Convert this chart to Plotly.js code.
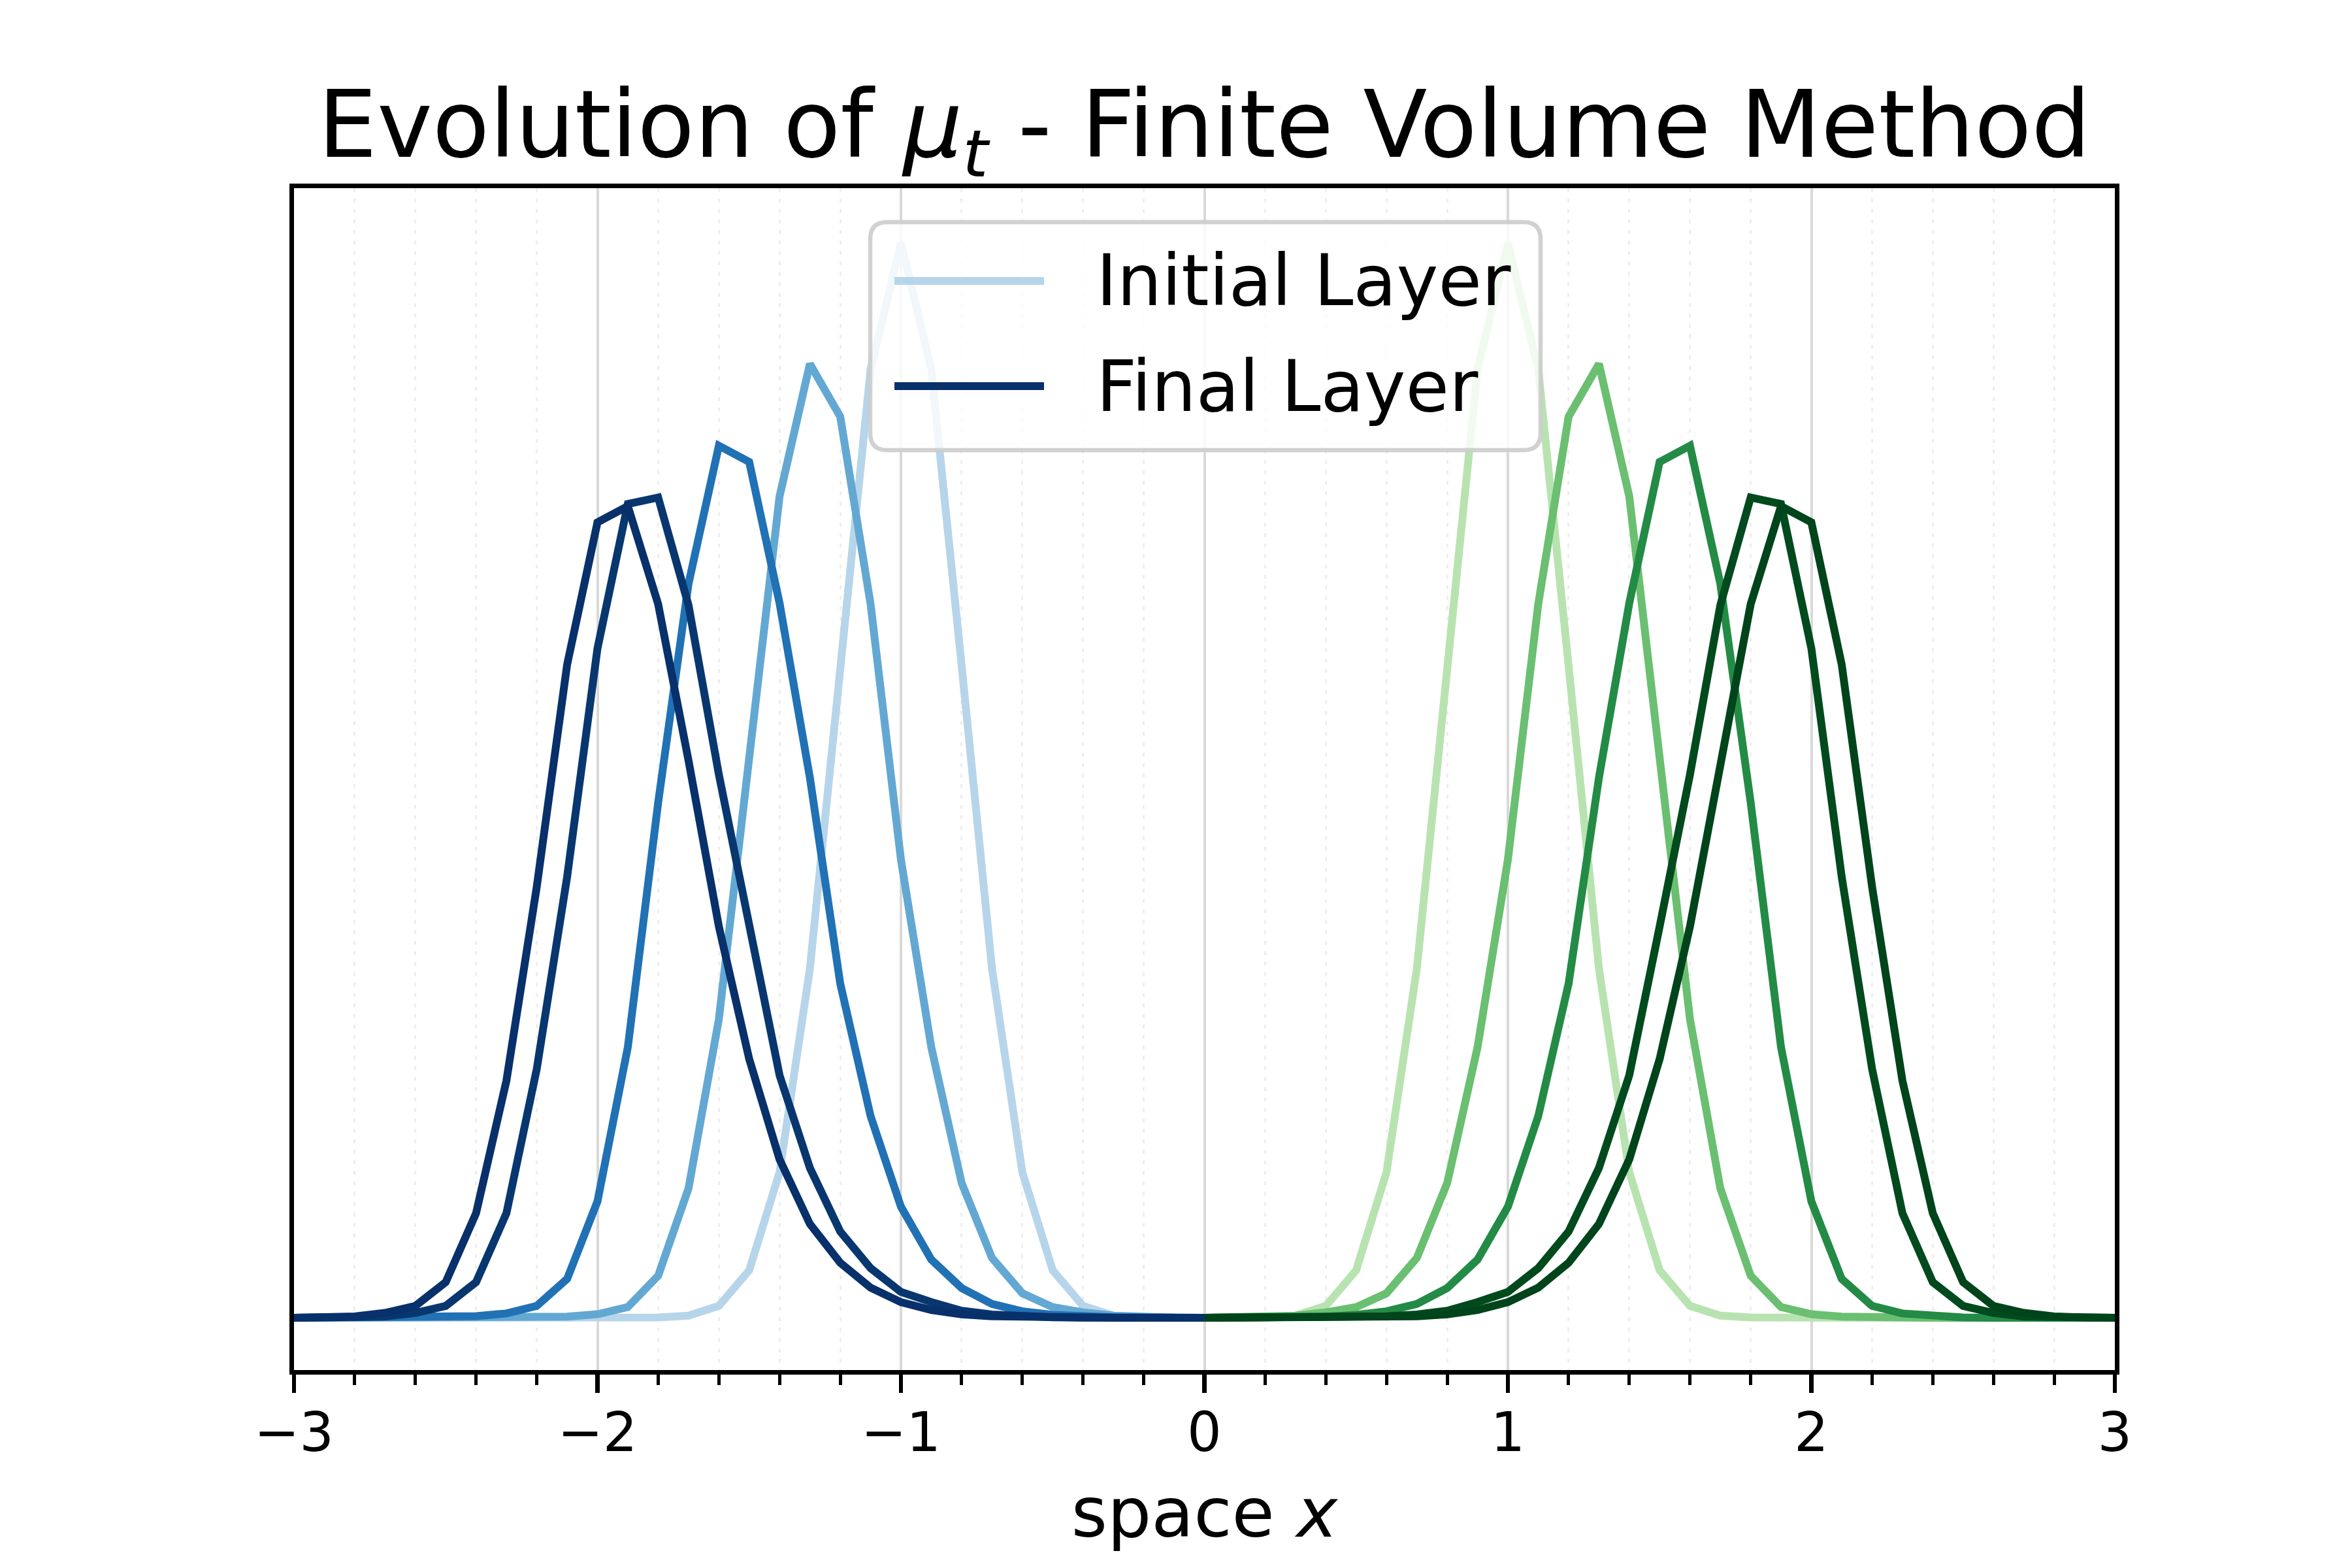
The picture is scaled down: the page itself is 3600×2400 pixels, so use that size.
<!DOCTYPE html>
<html>
<head>
<meta charset="utf-8">
<script src="https://cdn.plot.ly/plotly-3.0.1.min.js"></script>
<style>html,body{margin:0;padding:0;background:#fff;}</style>
</head>
<body>
<div id="chart" style="width:3600px;height:2400px;"></div>
<script>
// x grid (cell centres) for the left (blue) half and the right (green) half
const xLeft = [-3.0,-2.9,-2.8,-2.7,-2.6,-2.5,-2.4,-2.3,-2.2,-2.1,-2.0,-1.9,-1.8,-1.7,-1.6,-1.5,-1.4,-1.3,-1.2,-1.1,-1.0,-0.9,-0.8,-0.7,-0.6,-0.5,-0.4,-0.3,-0.2,-0.1,0.0];
const xRight = [0.0,0.1,0.2,0.3,0.4,0.5,0.6,0.7,0.8,0.9,1.0,1.1,1.2,1.3,1.4,1.5,1.6,1.7,1.8,1.9,2.0,2.1,2.2,2.3,2.4,2.5,2.6,2.7,2.8,2.9,3.0];

// Blue (x <= 0) layers, from initial to final
const blueLayer1 = [0,0,0,0,0,0,0,0,0,0,0,0,0.0003,0.002,0.011,0.044,0.135,0.324,0.605,0.880,0.997,0.880,0.605,0.324,0.135,0.044,0.011,0.002,0.0003,0,0];
const blueLayer2 = [0,0,0,0,0,0,0,0,0.0002,0.001,0.0033,0.0099,0.039,0.120,0.277,0.515,0.762,0.885,0.836,0.662,0.425,0.251,0.125,0.0555,0.0227,0.0099,0.005,0.002,0.0005,0.0001,0];
const blueLayer3 = [0,0,0,0,0,0.0003,0.0015,0.004,0.011,0.036,0.108,0.251,0.478,0.681,0.809,0.794,0.663,0.501,0.310,0.187,0.103,0.054,0.0276,0.0128,0.006,0.0027,0.001,0.0004,0.0001,0,0];
const blueLayer4 = [0,0,0.0003,0.0012,0.0045,0.011,0.033,0.097,0.231,0.409,0.621,0.755,0.761,0.661,0.504,0.363,0.225,0.139,0.080,0.046,0.024,0.0145,0.0065,0.003,0.0013,0.0005,0.0002,0.0001,0,0,0];
const blueLayer5 = [0,0.0003,0.0012,0.0045,0.011,0.033,0.097,0.220,0.400,0.606,0.738,0.753,0.662,0.517,0.363,0.240,0.147,0.087,0.051,0.028,0.0145,0.0072,0.0032,0.0014,0.0006,0.0002,0.0001,0,0,0,0];

// Green (x >= 0) layers, from initial to final
const greenLayer1 = [0,0,0.0003,0.002,0.011,0.044,0.135,0.324,0.605,0.880,0.997,0.880,0.605,0.324,0.135,0.044,0.011,0.002,0.0003,0,0,0,0,0,0,0,0,0,0,0,0];
const greenLayer2 = [0,0.0001,0.0005,0.002,0.005,0.0099,0.0227,0.0555,0.125,0.251,0.425,0.662,0.836,0.885,0.762,0.515,0.277,0.120,0.039,0.0099,0.0033,0.001,0.0002,0,0,0,0,0,0,0,0];
const greenLayer3 = [0,0,0.0001,0.0004,0.001,0.0027,0.006,0.0128,0.0276,0.054,0.103,0.187,0.310,0.501,0.663,0.794,0.809,0.681,0.478,0.251,0.108,0.036,0.011,0.004,0.0015,0.0003,0,0,0,0,0];
const greenLayer4 = [0,0,0,0.0001,0.0002,0.0005,0.0013,0.003,0.0065,0.0145,0.024,0.046,0.080,0.139,0.225,0.363,0.504,0.661,0.761,0.755,0.621,0.409,0.231,0.097,0.033,0.011,0.0045,0.0012,0.0003,0,0];
const greenLayer5 = [0,0,0,0,0.0001,0.0002,0.0006,0.0014,0.0032,0.0072,0.0145,0.028,0.051,0.087,0.147,0.240,0.363,0.517,0.662,0.753,0.738,0.606,0.400,0.220,0.097,0.033,0.011,0.0045,0.0012,0.0003,0];

const layerNames = ["Initial Layer", "", "", "", "Final Layer"];
const blueColors = ["#b7d5ea", "#63a8d3", "#2171b5", "#08376f", "#08306b"];
const greenColors = ["#b8e3b1", "#6abf71", "#238b45", "#004a1e", "#00441b"];

const tickVals = [-3, -2, -1, 0, 1, 2, 3];
const tickText = ["\u22123", "\u22122", "\u22121", "0", "1", "2", "3"];

const blueLayers = [blueLayer1, blueLayer2, blueLayer3, blueLayer4, blueLayer5];
const greenLayers = [greenLayer1, greenLayer2, greenLayer3, greenLayer4, greenLayer5];

const FONT = "DejaVu Sans, Arial, sans-serif";
const LW = 12;
const traces = [];
for (let i = 0; i < blueLayers.length; i++) {
  traces.push({
    x: xLeft, y: blueLayers[i], type: "scatter", mode: "lines",
    line: {color: blueColors[i], width: LW},
    name: layerNames[i] || ("layer " + (i + 1)),
    showlegend: false,
    hoverinfo: "skip"
  });
  traces.push({
    x: xRight, y: greenLayers[i], type: "scatter", mode: "lines",
    line: {color: greenColors[i], width: LW},
    name: "layer " + (i + 1),
    showlegend: false,
    hoverinfo: "skip"
  });
}

// ---- legend box (matplotlib-style, drawn in paper coordinates) ----
const W = 3600, H = 2400, ML = 450, MR = 363, MT = 288, MB = 303;
const PW = W - ML - MR, PH = H - MT - MB;
const px2x = p => (p - ML) / PW;           // pixel -> paper x
const px2y = p => (H - MB - p) / PH;       // pixel -> paper y
const box = {l: 1332, r: 2358, t: 340, b: 689, rad: 26};
function roundedRect(b) {
  const x0 = px2x(b.l), x1 = px2x(b.r), y0 = px2y(b.b), y1 = px2y(b.t);
  const rx = b.rad / PW, ry = b.rad / PH;
  return `M${x0 + rx},${y1} L${x1 - rx},${y1} Q${x1},${y1} ${x1},${y1 - ry} ` +
         `L${x1},${y0 + ry} Q${x1},${y0} ${x1 - rx},${y0} L${x0 + rx},${y0} ` +
         `Q${x0},${y0} ${x0},${y0 + ry} L${x0},${y1 - ry} Q${x0},${y1} ${x0 + rx},${y1} Z`;
}
const legendEntries = [
  {name: layerNames[0], color: blueColors[0], y: 430},
  {name: layerNames[4], color: blueColors[4], y: 591}
];
const shapes = [{
  type: "path", xref: "paper", yref: "paper", layer: "above",
  path: roundedRect(box),
  fillcolor: "rgba(255,255,255,0.8)",
  line: {color: "rgba(204,204,204,0.9)", width: 6.5}
}];
const annotations = [];
legendEntries.forEach(e => {
  shapes.push({
    type: "line", xref: "paper", yref: "paper", layer: "above",
    x0: px2x(1369), x1: px2x(1598), y0: px2y(e.y), y1: px2y(e.y),
    line: {color: e.color, width: LW}
  });
  annotations.push({
    xref: "paper", yref: "paper", x: px2x(1676), y: px2y(e.y),
    xanchor: "left", yanchor: "middle", showarrow: false,
    text: e.name, font: {family: FONT, size: 108, color: "#000000"}
  });
});

const layout = {
  width: W, height: H,
  margin: {l: ML, r: MR, t: MT, b: MB, pad: 0},
  paper_bgcolor: "#ffffff", plot_bgcolor: "#ffffff",
  font: {family: FONT, color: "#000000"},
  showlegend: false,
  title: {
    text: "Evolution of <i>\u03bc</i><sub><i>t</i></sub> - Finite Volume Method",
    font: {family: FONT, size: 143, color: "#000000"},
    x: 0.5, xref: "paper", xanchor: "center",
    y: 0.9, yref: "container", yanchor: "bottom"
  },
  xaxis: {
    range: [-3, 3],
    tickmode: "array", tickvals: tickVals, ticktext: tickText,
    ticks: "outside", ticklen: 28, tickwidth: 6.5, tickcolor: "#000000",
    ticklabelstandoff: -10,
    tickfont: {family: FONT, size: 83, color: "#000000"},
    showline: true, mirror: true, linewidth: 6.7, linecolor: "#000000",
    showgrid: true, gridcolor: "#d9d9d9", gridwidth: 4,
    zeroline: false,
    minor: {
      dtick: 0.2, tick0: 0,
      ticks: "outside", ticklen: 16, tickwidth: 5, tickcolor: "#000000",
      showgrid: true, gridcolor: "#eeeeee", gridwidth: 3, griddash: "6px,10px"
    },
    title: {text: "space <i>x</i>", font: {family: FONT, size: 106, color: "#000000"}, standoff: 40},
    automargin: false
  },
  yaxis: {
    range: [-0.0485, 1.048],
    showticklabels: false, ticks: "",
    showline: true, mirror: true, linewidth: 6.7, linecolor: "#000000",
    showgrid: false, zeroline: false,
    automargin: false
  },
  shapes: shapes,
  annotations: annotations
};

Plotly.newPlot("chart", traces, layout, {displayModeBar: false, staticPlot: true});
</script>
</body>
</html>
